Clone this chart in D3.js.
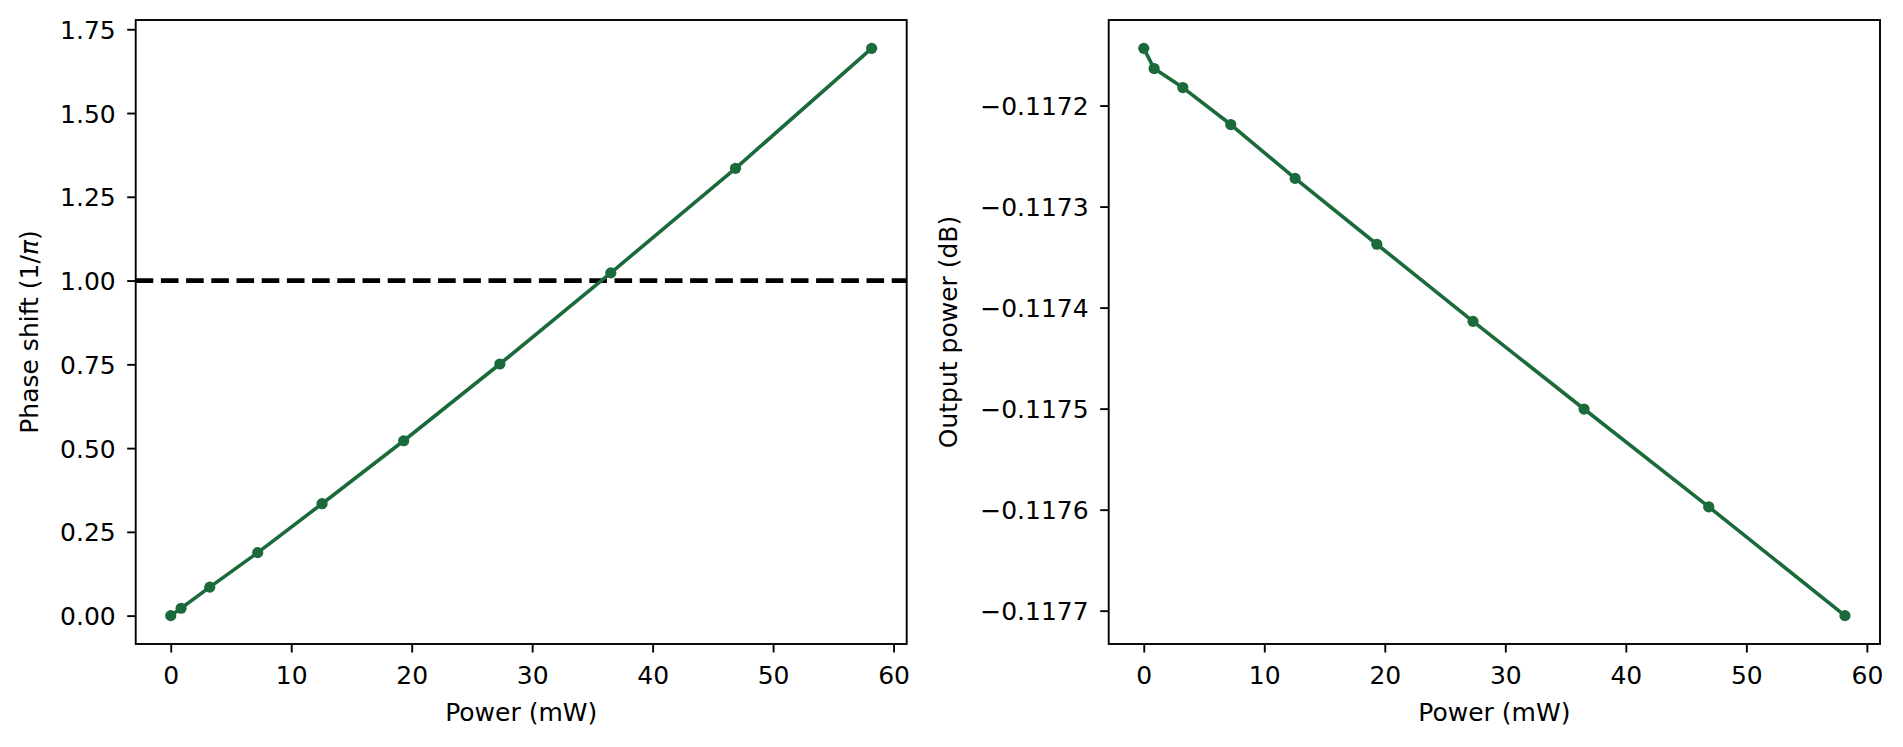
<!DOCTYPE html>
<html>
<head>
<meta charset="utf-8">
<script src="https://cdn.jsdelivr.net/npm/d3@7"></script>
<style>
  body { margin: 0; background: #fff; }
  text { font-family: "DejaVu Sans", sans-serif; }
</style>
</head>
<body>
<svg id="chart" width="1903" height="747"></svg>
<script>
// values
const power = [0, 0.86, 3.24, 7.22, 12.56, 19.34, 27.32, 36.53, 46.88, 58.18];
const phaseShift = [0, 0.022, 0.085, 0.188, 0.334, 0.522, 0.751, 1.023, 1.335, 1.693];
const outputPower = [-0.1171434, -0.1171634, -0.1171822, -0.1172188, -0.1172721,
  -0.1173373, -0.1174136, -0.1175004, -0.1175972, -0.1177049];
const xTicks = [0, 10, 20, 30, 40, 50, 60];
const phaseTicks = [0, 0.25, 0.5, 0.75, 1.0, 1.25, 1.5, 1.75];
const outTicks = [-0.1177, -0.1176, -0.1175, -0.1174, -0.1173, -0.1172];
const piLevel = 1.0;

const green = "#1b6a3b";
const fontSize = 25;
const tickLen = 8.5;

const svg = d3.select("#chart");
svg.append("rect").attr("width", 1903).attr("height", 747).attr("fill", "#fff");

// matplotlib-like 5% margins
function padded(vals) {
  const [lo, hi] = d3.extent(vals);
  const m = (hi - lo) * 0.05;
  return [lo - m, hi + m];
}

function drawPanel(opts) {
  const { left, right, top, bottom, ys, yTicks, yFmt, label, labelX } = opts;
  const g = svg.append("g");

  const x = d3.scaleLinear().domain(padded(power)).range([left, right]);
  const y = d3.scaleLinear().domain(padded(ys)).range([bottom, top]);

  // x axis
  const xa = g.append("g")
    .attr("transform", `translate(0,${bottom})`)
    .call(d3.axisBottom(x).tickValues(xTicks).tickFormat(d3.format("d")).tickSize(tickLen).tickSizeOuter(0));
  xa.select(".domain").remove();
  xa.selectAll("line").attr("stroke", "#000").attr("stroke-width", 1.9);
  xa.selectAll("text").attr("y", 0).attr("dy", 39.7)
    .style("font-size", fontSize + "px").attr("fill", "#000");

  // y axis
  const ya = g.append("g")
    .attr("transform", `translate(${left},0)`)
    .call(d3.axisLeft(y).tickValues(yTicks).tickFormat(d3.format(yFmt)).tickSize(tickLen).tickSizeOuter(0));
  ya.select(".domain").remove();
  ya.selectAll("line").attr("stroke", "#000").attr("stroke-width", 1.9);
  ya.selectAll("text").attr("x", -20).attr("dy", "0.36em")
    .style("font-size", fontSize + "px").attr("fill", "#000");

  if (opts.hline !== undefined) {
    g.append("line")
      .attr("x1", left).attr("x2", right)
      .attr("y1", y(opts.hline)).attr("y2", y(opts.hline))
      .attr("stroke", "#000").attr("stroke-width", 4.7)
      .attr("stroke-dasharray", "17.6,7.6");
  }

  const pts = power.map((p, i) => [p, ys[i]]);
  g.append("path")
    .datum(pts)
    .attr("fill", "none")
    .attr("stroke", green)
    .attr("stroke-width", 3.6)
    .attr("stroke-linejoin", "round")
    .attr("d", d3.line().x(d => x(d[0])).y(d => y(d[1])));

  g.selectAll("circle.pt")
    .data(pts)
    .join("circle")
    .attr("class", "pt")
    .attr("cx", d => x(d[0]))
    .attr("cy", d => y(d[1]))
    .attr("r", 5.6)
    .attr("fill", green);

  // frame
  g.append("rect")
    .attr("x", left).attr("y", top)
    .attr("width", right - left).attr("height", bottom - top)
    .attr("fill", "none").attr("stroke", "#000").attr("stroke-width", 1.9);

  g.append("text")
    .attr("x", (left + right) / 2)
    .attr("y", 721)
    .attr("text-anchor", "middle")
    .style("font-size", fontSize + "px")
    .text("Power (mW)");

  const yl = g.append("text")
    .attr("transform", `translate(${labelX},${(top + bottom) / 2}) rotate(-90)`)
    .attr("text-anchor", "middle")
    .style("font-size", fontSize + "px");
  label(yl);
}

drawPanel({
  left: 135.7, right: 906.7, top: 20, bottom: 644,
  ys: phaseShift, yTicks: phaseTicks, yFmt: ".2f",
  hline: piLevel, labelX: 38,
  label: t => {
    t.append("tspan").text("Phase shift (1/");
    t.append("tspan").style("font-style", "italic").text("π");
    t.append("tspan").text(")");
  }
});

drawPanel({
  left: 1108.7, right: 1880, top: 20, bottom: 644,
  ys: outputPower, yTicks: outTicks, yFmt: ".4f",
  labelX: 956.5,
  label: t => t.text("Output power (dB)")
});
</script>
</body>
</html>
